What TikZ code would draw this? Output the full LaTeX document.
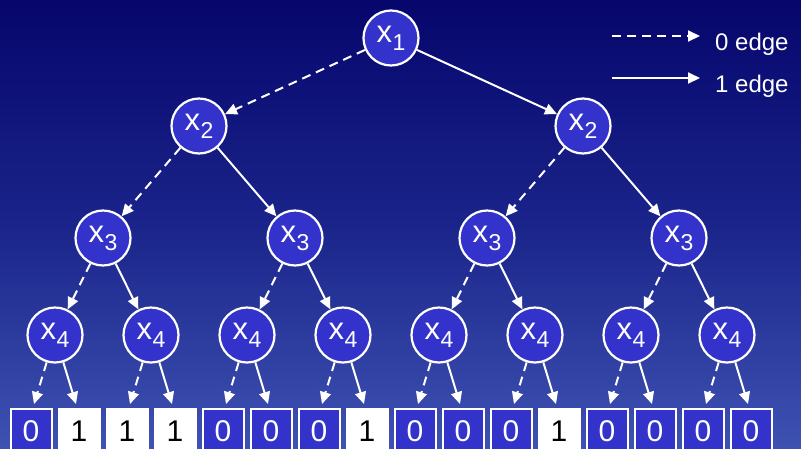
\documentclass[tikz,border=0pt]{standalone}
\usepackage{fontspec}
\setmainfont{Liberation Sans}
\usetikzlibrary{arrows.meta}
\definecolor{nodeblue}{RGB}{51,51,204}
\definecolor{bgtop}{RGB}{6,6,108}
\definecolor{bgmid}{RGB}{26,36,138}
\definecolor{bgbot}{RGB}{62,82,178}
\newcommand{\xvar}[1]{{\fontsize{31}{31}\selectfont x}\kern0.5pt\raisebox{-8pt}{\fontsize{23}{23}\selectfont #1}}
\begin{document}
\begin{tikzpicture}[x=1pt,y=-1pt,
  var/.style={circle,draw=white,line width=2.2pt,fill=nodeblue,text=white,minimum size=55pt,inner sep=0pt},
  leafzero/.style={rectangle,draw=white,line width=2pt,fill=nodeblue,text=white,minimum width=41pt,minimum height=44pt,inner sep=0pt,font=\fontsize{30}{30}\selectfont},
  leafone/.style={leafzero,fill=white,text=black},
  zeroedge/.style={draw=white,line width=2pt,dash pattern=on 9pt off 6pt,-{Triangle[length=12pt,width=11pt]}},
  oneedge/.style={draw=white,line width=2pt,-{Triangle[length=12pt,width=11pt]}},
  legendtext/.style={text=white,inner sep=0pt,anchor=base west,font=\fontsize{24}{24}\selectfont},
]
\useasboundingbox (0,0) rectangle (801,448);
\shade[top color=bgtop,bottom color=bgbot,middle color=bgmid] (0,0) rectangle (801,448);
\begin{scope}
\clip (0,0) rectangle (801,448);
% tree nodes
\node[var] (a) at (391,38) {\xvar{1}};
\node[var] (b1) at (199,126) {\xvar{2}};
\node[var] (b2) at (583,126) {\xvar{2}};
\foreach \i/\x in {1/103,2/295,3/487,4/679}
  \node[var] (c\i) at (\x,238) {\xvar{3}};
\foreach \i in {1,...,8}
  \node[var] (d\i) at ({55+96*(\i-1)},335) {\xvar{4}};
% leaves
\foreach \i/\v in {1/0,2/1,3/1,4/1,5/0,6/0,7/0,8/1,9/0,10/0,11/0,12/1,13/0,14/0,15/0,16/0}{
  \ifnum\v=1
    \node[leafone] (l\i) at ({31+48*(\i-1)},431) {\v};
  \else
    \node[leafzero] (l\i) at ({31+48*(\i-1)},431) {\v};
  \fi
}
% edges
\draw[zeroedge] (a) -- (b1);
\draw[oneedge] (a) -- (b2);
\draw[zeroedge] (b1) -- (c1);
\draw[oneedge] (b1) -- (c2);
\draw[zeroedge] (b2) -- (c3);
\draw[oneedge] (b2) -- (c4);
\foreach \i/\l/\r in {1/1/2,2/3/4,3/5/6,4/7/8}{
  \draw[zeroedge] (c\i) -- (d\l);
  \draw[oneedge] (c\i) -- (d\r);
}
\foreach \i/\l/\r in {1/1/2,2/3/4,3/5/6,4/7/8,5/9/10,6/11/12,7/13/14,8/15/16}{
  \draw[zeroedge] (d\i) -- ([xshift=3pt,yshift=4pt]l\l.north);
  \draw[oneedge] (d\i) -- ([xshift=-3pt,yshift=4pt]l\r.north);
}
% legend
\coordinate (za) at (612,36);
\coordinate (zb) at (700,36);
\coordinate (oa) at (612,78);
\coordinate (ob) at (700,78);
\draw[zeroedge] (za) -- (zb);
\draw[oneedge] (oa) -- (ob);
\node[legendtext] (zt) at (715,50) {0 edge};
\node[legendtext] (ot) at (715,92) {1 edge};
\end{scope}
\end{tikzpicture}
\end{document}
